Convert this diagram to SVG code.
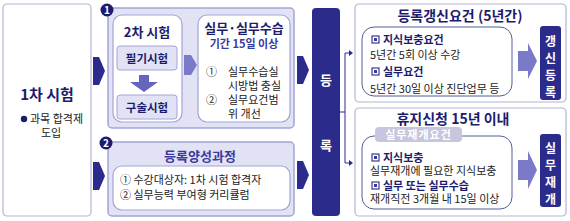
<svg xmlns="http://www.w3.org/2000/svg" width="570" height="221" viewBox="0 0 570 221">
<defs>
<style>
text{font-family:"Noto Sans CJK KR","Noto Sans",sans-serif;}
.t{font-weight:700;fill:#1c1c6e;}
.b{font-size:11px;fill:#222;}
.w{fill:#fff;font-weight:700;}
.h{font-size:11px;font-weight:700;fill:#1c1c6e;}
.outer{fill:#fff;stroke:#b4b4d4;stroke-width:1.2;}
.grp{fill:#e2e2f5;stroke:#a4a4d6;stroke-width:1.5;}
.inner{fill:#fff;stroke:#a4a4d6;stroke-width:1.2;}
.innerR{fill:#fff;stroke:#4f5f98;stroke-width:1;}
.navy{fill:#2b2b8c;}
.lav{fill:#7a7ac8;}
.sq{fill:none;stroke:#3a3a90;stroke-width:1.2;}
.sqi{fill:#3a3a90;}
</style>
</defs>
<rect width="570" height="221" fill="#fff"/>
<g id="exam1">
<rect class="outer" x="3" y="4" width="88" height="212" rx="4"/>
<text class="t" x="47" y="100" text-anchor="middle" font-size="15">1차 시험</text>
<circle cx="24" cy="119" r="3.2" fill="#1c1c6e"/>
<text class="b" x="30" y="123" font-size="10.5">과목 합격제</text>
<text class="b" x="51" y="137" text-anchor="middle" font-size="10.5">도입</text>
</g>
<g id="group1">
<rect class="grp" x="108" y="8" width="186" height="120" rx="4"/>
<circle cx="107" cy="10" r="6.5" fill="#1c1c6e"/>
<text x="107" y="14" text-anchor="middle" font-size="10" class="w">1</text>
</g>
<g id="exam2">
<rect class="inner" x="113" y="15" width="69" height="107" rx="9"/>
<text class="t" x="147" y="37" text-anchor="middle" font-size="13">2차 시험</text>
<rect x="117" y="46" width="60" height="24" rx="3" fill="#e2e2f5" stroke="#a4a4d6"/>
<text x="147" y="63" text-anchor="middle" font-size="11.5" font-weight="700" fill="#1c1c6e">필기시험</text>
<polygon points="139,75 149,75 149,82 158,82 144,92 130,82 139,82" fill="#6565bd"/>
<rect x="117" y="95" width="60" height="24" rx="3" fill="#e2e2f5" stroke="#a4a4d6"/>
<text x="147" y="112" text-anchor="middle" font-size="11.5" font-weight="700" fill="#1c1c6e">구술시험</text>
</g>
<g id="practice">
<rect class="inner" x="198" y="15" width="92" height="107" rx="9"/>
<text class="t" x="244" y="33" text-anchor="middle" font-size="13">실무·실무수습</text>
<text x="244" y="48" text-anchor="middle" font-size="11" font-weight="700" fill="#3a3aa0">기간 15일 이상</text>
<text class="b" x="206" y="76">①</text>
<text class="b" x="228" y="76">실무수습실</text>
<text class="b" x="228" y="90">시방법 충실</text>
<text class="b" x="206" y="104">②</text>
<text class="b" x="228" y="104">실무요건범</text>
<text class="b" x="228" y="118">위 개선</text>
</g>
<g id="group2">
<rect class="grp" x="108" y="142" width="186" height="74" rx="4"/>
<circle cx="106" cy="143" r="6.5" fill="#1c1c6e"/>
<text x="106" y="147" text-anchor="middle" font-size="10" class="w">2</text>
<text x="200" y="161" text-anchor="middle" font-size="13" font-weight="700" fill="#3a3aa0">등록양성과정</text>
<rect class="inner" x="113" y="166" width="177" height="44" rx="9"/>
<text class="b" x="120" y="184">①  수강대상자: 1차 시험 합격자</text>
<text class="b" x="120" y="199">②  실무능력 부여형 커리큘럼</text>
</g>
<g id="register">
<rect class="navy" x="312" y="8" width="28" height="208" rx="4"/>
<text class="w" x="326" y="85" text-anchor="middle" font-size="13">등</text>
<text class="w" x="326" y="150" text-anchor="middle" font-size="13">록</text>
</g>
<g id="renew">
<rect class="outer" x="355" y="4" width="211" height="98" rx="4"/>
<text class="t" x="460" y="21" text-anchor="middle" font-size="14">등록갱신요건 (5년간)</text>
<rect class="innerR" x="362" y="27" width="150" height="69" rx="12"/>
<rect class="sq" x="372" y="36" width="7" height="7"/>
<rect class="sqi" x="374" y="38" width="3" height="3"/>
<text class="h" x="383" y="44">지식보충요건</text>
<text class="b" x="370" y="59">5년간 5회 이상 수강</text>
<rect class="sq" x="372" y="68" width="7" height="7"/>
<rect class="sqi" x="374" y="70" width="3" height="3"/>
<text class="h" x="383" y="76">실무요건</text>
<text class="b" x="370" y="93">5년간 30일 이상 진단업무 등</text>
<polygon class="lav" points="518,51 528,51 528,43 537,61 528,79 528,71 518,71"/>
<rect class="navy" x="540" y="26" width="21" height="74" rx="3"/>
<text class="w" x="550.5" y="46" text-anchor="middle" font-size="12">갱</text>
<text class="w" x="550.5" y="63" text-anchor="middle" font-size="12">신</text>
<text class="w" x="550.5" y="80" text-anchor="middle" font-size="12">등</text>
<text class="w" x="550.5" y="97" text-anchor="middle" font-size="12">록</text>
</g>
<g id="resume">
<rect class="outer" x="355" y="108" width="211" height="108" rx="4"/>
<text class="t" x="453" y="124" text-anchor="middle" font-size="14">휴지신청 15년 이내</text>
<rect class="innerR" x="362" y="136" width="150" height="73" rx="12"/>
<rect x="375" y="127" width="87" height="15" rx="4" fill="#c6c6de"/>
<text x="418.5" y="139" text-anchor="middle" font-size="11" fill="#fff" font-weight="700" letter-spacing="1">실무재개요건</text>
<rect class="sq" x="372" y="154" width="7" height="7"/>
<rect class="sqi" x="374" y="156" width="3" height="3"/>
<text class="h" x="383" y="162">지식보충</text>
<text class="b" x="370" y="175">실무재개에 필요한 지식보충</text>
<rect class="sq" x="372" y="182" width="7" height="7"/>
<rect class="sqi" x="374" y="184" width="3" height="3"/>
<text class="h" x="383" y="190">실무 또는 실무수습</text>
<text class="b" x="370" y="203">재개직전 3개월 내 15일 이상</text>
<polygon class="lav" points="518,160 528,160 528,151 537,170 528,189 528,180 518,180"/>
<rect class="navy" x="540" y="134" width="21" height="73" rx="3"/>
<text class="w" x="550.5" y="153" text-anchor="middle" font-size="12">실</text>
<text class="w" x="550.5" y="170" text-anchor="middle" font-size="12">무</text>
<text class="w" x="550.5" y="187" text-anchor="middle" font-size="12">재</text>
<text class="w" x="550.5" y="204" text-anchor="middle" font-size="12">개</text>
</g>
<g id="connectors">
<polygon class="navy" points="93,57 99,57 105,71 99,85 93,85"/>
<polygon class="navy" points="93,162 99,162 105,176 99,190 93,190"/>
<polygon class="lav" points="184,55 191,55 197,65 191,75 184,75"/>
<polygon class="navy" points="297,56 303,56 309,70 303,84 297,84"/>
<polygon class="navy" points="297,161 303,161 309,175 303,189 297,189"/>
<path d="M340,112 H345 M345,53 V163 M345,53 H349 M345,163 H349" stroke="#2b2b8c" stroke-width="1" fill="none"/>
<polygon points="349,50 353,53 349,56" fill="#2b2b8c"/>
<polygon points="349,160 353,163 349,166" fill="#2b2b8c"/>
</g>
</svg>
